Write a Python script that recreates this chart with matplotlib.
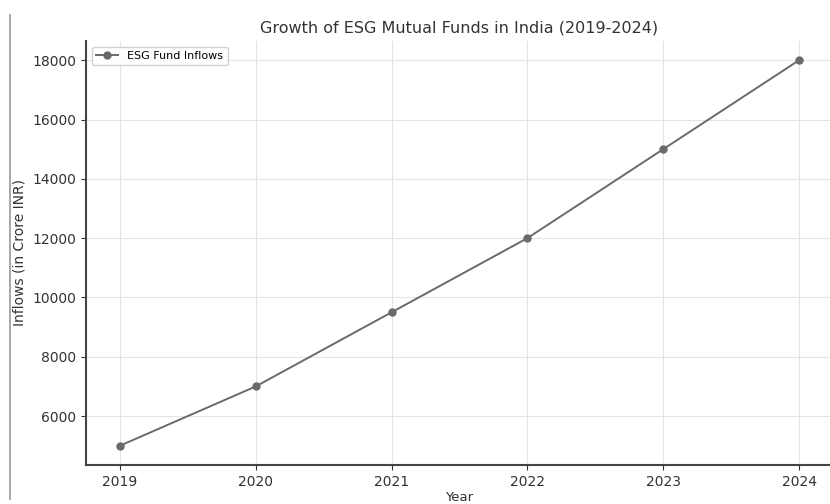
import matplotlib
matplotlib.use("Agg")
import matplotlib.pyplot as plt
from matplotlib.lines import Line2D

years = [2019, 2020, 2021, 2022, 2023, 2024]
inflows = [5000, 7000, 9500, 12000, 15000, 18000]
yticks = [6000, 8000, 10000, 12000, 14000, 16000, 18000]

fig = plt.figure(figsize=(8.3, 5.04), dpi=100)
ax = fig.add_axes([0.1036, 0.0774, 0.9, 0.8413])

ax.plot(years, inflows, color="#6a6a6a", marker="o", markersize=5, linewidth=1.4,
        label="ESG Fund Inflows")
ax.set_xticks(years)
ax.set_yticks(yticks)
ax.tick_params(labelsize=10, colors="#333333")
ax.grid(True, color="#e4e4e4", linewidth=0.8)
for s in ["top", "right"]:
    ax.spines[s].set_visible(False)
for s in ["left", "bottom"]:
    ax.spines[s].set_color("#444444")
    ax.spines[s].set_linewidth(1.5)
ax.set_title("Growth of ESG Mutual Funds in India (2019-2024)", fontsize=11.5, color="#333333")
ax.set_xlabel("Year", fontsize=9.5, color="#333333", labelpad=2)
ax.set_ylabel("Inflows (in Crore INR)", fontsize=10, color="#333333")
ax.legend(loc="upper left", fontsize=8, framealpha=0.9)

fig.add_artist(Line2D([0.012, 0.012], [0.01, 0.97], transform=fig.transFigure,
                      color="#999999", linewidth=1.2))

fig.savefig("out.png", dpi=100)
